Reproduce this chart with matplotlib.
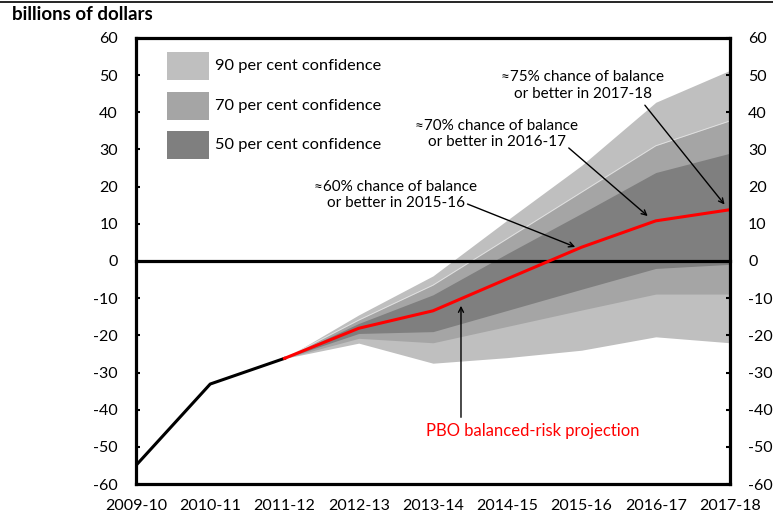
import matplotlib.pyplot as plt
from matplotlib.patches import Rectangle
from matplotlib.lines import Line2D

plt.rcParams['font.family'] = ['Lato', 'DejaVu Sans']
plt.rcParams['axes.unicode_minus'] = False

years = ['2009-10', '2010-11', '2011-12', '2012-13', '2013-14',
         '2014-15', '2015-16', '2016-17', '2017-18']

# actual balance (2009-10 to 2011-12)
actual = [-55.0, -33.1, -26.2]
# PBO projection and fan chart bounds (2011-12 to 2017-18)
projection = [-26.2, -18.1, -13.4, -4.8, 3.7, 10.8, 13.8]
upper90 = [-26.2, -14.5, -4.0, 11.0, 25.7, 42.7, 51.3]
upper70 = [-26.2, -15.9, -6.5, 6.0, 18.5, 31.0, 37.7]
upper50 = [-26.2, -16.8, -9.1, 2.0, 12.8, 23.8, 29.0]
lower50 = [-26.2, -19.5, -19.0, -13.3, -7.6, -2.0, -0.9]
lower70 = [-26.2, -20.8, -22.0, -17.6, -13.2, -8.9, -8.9]
lower90 = [-26.2, -22.1, -27.5, -26.0, -24.0, -20.4, -22.0]

band_labels = ['90 per cent confidence', '70 per cent confidence', '50 per cent confidence']
band_colors = ['#bfbfbf', '#a5a5a5', '#7f7f7f']

fig = plt.figure(figsize=(7.73, 5.21), dpi=100)
ax = fig.add_axes([0.1759, 0.0710, 0.7685, 0.8561])

x_act = list(range(len(actual)))
x_proj = list(range(len(actual) - 1, len(years)))

# fan chart
ax.fill_between(x_proj, lower90, upper90, color=band_colors[0], lw=0, zorder=1)
ax.fill_between(x_proj, lower70, upper70, color=band_colors[1], lw=0, zorder=2)
ax.fill_between(x_proj, lower50, upper50, color=band_colors[2], lw=0, zorder=3)
ax.plot(x_proj, upper70, color='#e4e4e4', lw=0.6, zorder=2.5)

ax.axhline(0, color='black', lw=2.3, zorder=4, clip_on=False)
ax.plot(x_act, actual, color='black', lw=2.2, zorder=5)
ax.plot(x_proj, projection, color='red', lw=2.2, zorder=6)

ax.set_xlim(0, len(years) - 1)
ax.set_ylim(-60, 60)
ax.set_xticks(range(len(years)))
ax.set_xticklabels(years)
ax.set_yticks(range(-60, 61, 10))
ax.tick_params(axis='x', length=0, pad=11, labelsize=11.5)
ax.tick_params(axis='y', direction='in', length=3, width=1.5, pad=13,
               labelsize=11.5, right=True, labelright=True)
for s in ax.spines.values():
    s.set_linewidth(2.3)
    s.set_zorder(7)

# legend boxes
for i, (lab, col) in enumerate(zip(band_labels, band_colors)):
    y0 = 0.9058 - i * 0.0886
    ax.add_patch(Rectangle((0.0522, y0), 0.0707, 0.0628, transform=ax.transAxes,
                           facecolor=col, edgecolor='none', zorder=8))
    ax.text(0.133, y0 + 0.0314, lab, transform=ax.transAxes, va='center',
            ha='left', fontsize=11.8, zorder=8)

# annotations
notes = [
    ('≈75% chance of balance\nor better in 2017-18', (6.02, 47.2), (6.83, 42.5), (7.95, 14.6)),
    ('≈70% chance of balance\nor better in 2016-17', (4.86, 34.2), (5.80, 30.9), (6.92, 11.6)),
    ('≈60% chance of balance\nor better in 2015-16', (3.50, 17.8), (4.43, 15.6), (5.95, 3.5)),
]
for txt, tpos, start, tip in notes:
    ax.text(tpos[0], tpos[1], txt, ha='center', va='center', fontsize=11,
            linespacing=1.2, zorder=9)
    ax.annotate('', xy=tip, xytext=start,
                arrowprops=dict(arrowstyle='->', color='black', lw=1,
                                mutation_scale=9), zorder=9)

ax.text(5.35, -45.7, 'PBO balanced-risk projection', color='red', ha='center',
        va='center', fontsize=12, zorder=9)
ax.annotate('', xy=(4.377, -11.3), xytext=(4.377, -42.8),
            arrowprops=dict(arrowstyle='->', color='black', lw=1, mutation_scale=9),
            zorder=9)

fig.text(12 / 773, 1 - 15 / 521, 'billions of dollars', fontsize=13.5,
         fontweight='bold', ha='left', va='center')
fig.add_artist(Line2D([0, 1], [1 - 1.5 / 521, 1 - 1.5 / 521], color='black',
                      lw=1.2, transform=fig.transFigure))

fig.savefig('out.png', dpi=100)
